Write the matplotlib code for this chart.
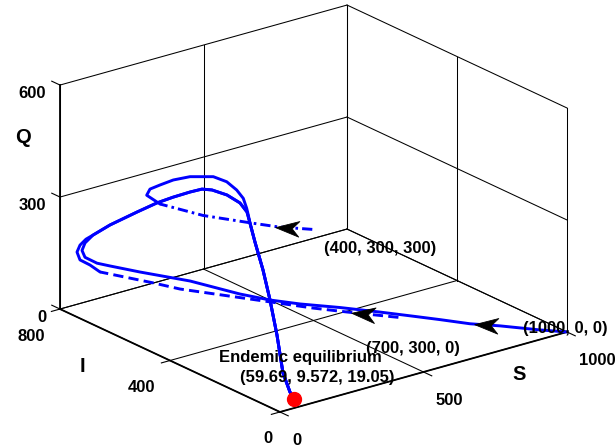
import numpy as np
import matplotlib
matplotlib.use("Agg")
import matplotlib.pyplot as plt
from matplotlib.path import Path
from matplotlib.markers import MarkerStyle
from matplotlib.transforms import Affine2D

plt.rcParams['font.family'] = ['Liberation Sans', 'DejaVu Sans']

# ---------------- data ----------------
S_ticks = [0, 500, 1000]
I_ticks = [0, 400, 800]
Q_ticks = [0, 300, 600]

# trajectory from (1000, 0, 0) up to where it joins the common tail
h1_S = [1000, 950.4, 881.7, 825.5, 778.6, 738.0, 680.2, 611.5, 530, 470, 400, 290, 175, 110, 80, 58, 46, 38]
h1_I = [0, 46.4, 120.1, 170.6, 230.8, 279.3, 346.3, 420.0, 480.4, 526.9, 562.9, 629.9, 691.7, 733.0, 748.9, 769.6, 768.0, 748.7]
h1_Q = [0, 0.1, 0.3, 0.6, 1.0, 1.5, 2.5, 4.0, 10.2, 17.6, 36.2, 71.6, 99.0, 114.9, 123.3, 136.6, 158.2, 186.6]

# trajectory from (700, 300, 0)
h2_S = [700, 605, 545, 440, 280, 230, 125, 90, 55, 45, 38, 34]
h2_I = [300, 387.8, 448.8, 542.8, 655.9, 701.9, 785.0, 784.8, 784.7, 785.2, 766.9, 741.0]
h2_Q = [0, 4.5, 6.9, 18.5, 43.3, 54.7, 77.7, 103.9, 125.1, 148.1, 174.5, 200.2]

# trajectory from (400, 300, 300)
h3_S = [400, 320, 240, 130, 50, 40, 35, 32, 30, 28, 27, 26, 26, 26, 25, 25]
h3_I = [300, 341.2, 359.6, 415.7, 488.5, 526.5, 509.3, 469.7, 419.3, 356.5, 270.7, 220.9, 184.6, 160.6, 147.2, 141.4]
h3_Q = [300, 309.6, 331.4, 355.3, 378.0, 390.6, 414.0, 439.3, 470.5, 501.4, 531.2, 535.0, 525.4, 511.3, 489.5, 473.6]

# common tail of the trajectories, ending at the endemic equilibrium
tail_S = [32, 28, 25, 23, 22, 21, 21, 21, 22, 23, 24, 25, 27, 30, 34, 40, 48, 56, 59.69]
tail_I = [713.4, 647.4, 546.1, 471.3, 412.0, 349.2, 305.6, 269.2, 215.7, 169.5, 145.1, 135.2, 119.1, 93.1, 71.9, 52.7, 39.2, 22.1, 9.572]
tail_Q = [221.1, 271.8, 342.0, 392.7, 428.6, 464.3, 487.2, 497.4, 502.2, 496.6, 480.5, 454.2, 408.3, 342.0, 268.4, 179.5, 80.8, 33.8, 19.05]
tail_join3 = 11          # index of the tail where trajectory 3 joins
dash_end2 = 6            # last index of head 2 drawn dashed
dash_end3 = 4            # last index of head 3 drawn dash-dot

eq_S, eq_I, eq_Q = 59.69, 9.572, 19.05
start_labels = ["(1000, 0, 0)", "(700, 300, 0)", "(400, 300, 300)"]
eq_title = "Endemic equilibrium"
eq_coords = "(59.69, 9.572, 19.05)"

# ---------------- figure ----------------
W, H = 616, 448
fig = plt.figure(figsize=(W / 100, H / 100), dpi=100)
s0 = 560.0
cx0, cy0 = 313.0, 239.0
ax = fig.add_axes([(cx0 - s0 / 2) / W, (cy0 - s0 / 2) / H, s0 / W, s0 / H],
                  projection='3d', proj_type='ortho', computed_zorder=False)
ax.view_init(elev=21.17, azim=-127.66)
ax.set_box_aspect((1, 0.993, 0.6625))
ax.set_axis_off()

K = 'black'
BLUE = '#0000FF'
Smax, Imax, Qmax = S_ticks[-1], I_ticks[-1], Q_ticks[-1]

# grid / box lines (floor + two back walls)
glw = 0.75
for s in S_ticks:
    ax.plot([s, s], [0, Imax], [0, 0], color=K, lw=glw, zorder=1)
    ax.plot([s, s], [Imax, Imax], [0, Qmax], color=K, lw=glw, zorder=1)
for i in I_ticks:
    ax.plot([0, Smax], [i, i], [0, 0], color=K, lw=glw, zorder=1)
    ax.plot([Smax, Smax], [i, i], [0, Qmax], color=K, lw=glw, zorder=1)
for q in Q_ticks:
    ax.plot([0, Smax], [Imax, Imax], [q, q], color=K, lw=glw, zorder=1)
    ax.plot([Smax, Smax], [0, Imax], [q, q], color=K, lw=glw, zorder=1)
# main axis lines
alw = 1.3
ax.plot([0, Smax], [0, 0], [0, 0], color=K, lw=alw, zorder=1)
ax.plot([0, 0], [0, Imax], [0, 0], color=K, lw=alw, zorder=1)
ax.plot([0, 0], [Imax, Imax], [0, Qmax], color=K, lw=alw, zorder=1)
# tick marks
tl = 30
for s in S_ticks:
    ax.plot([s, s], [0, -tl], [0, 0], color=K, lw=0.8, zorder=1)
for i in I_ticks:
    ax.plot([0, -tl], [i, i], [0, 0], color=K, lw=0.8, zorder=1)
for q in Q_ticks:
    ax.plot([0, 0], [Imax, Imax + tl], [q, q], color=K, lw=0.8, zorder=1)

# trajectories
lw = 2.1
sty = dict(color=BLUE, lw=lw, zorder=2, solid_joinstyle='round', solid_capstyle='round')
ax.plot(h1_S + tail_S, h1_I + tail_I, h1_Q + tail_Q, **sty)
ax.plot(h2_S[:dash_end2 + 1], h2_I[:dash_end2 + 1], h2_Q[:dash_end2 + 1],
        color=BLUE, lw=lw, dashes=(3.5, 1.8), zorder=2)
ax.plot(h2_S[dash_end2:] + tail_S, h2_I[dash_end2:] + tail_I, h2_Q[dash_end2:] + tail_Q, **sty)
ax.plot(h3_S[:dash_end3 + 1], h3_I[:dash_end3 + 1], h3_Q[:dash_end3 + 1],
        color=BLUE, lw=lw, dashes=(3.5, 1.4, 0.9, 1.4), zorder=2)
ax.plot(h3_S[dash_end3:] + tail_S[tail_join3:], h3_I[dash_end3:] + tail_I[tail_join3:],
        h3_Q[dash_end3:] + tail_Q[tail_join3:], **sty)
ax.plot([eq_S], [eq_I], [eq_Q], 'o', color='red', mec='red', ms=10, zorder=3)

ax.set_xlim(0, Smax)
ax.set_ylim(0, Imax)
ax.set_zlim(0, Qmax)


def to2d(x, y, z):
    M = ax.get_proj()
    v = M @ np.array([x, y, z, 1.0])
    return v[0] / v[3], v[1] / v[3]


def to_disp(x, y, z):
    return ax.transData.transform(to2d(x, y, z))


# ---- fit the axes box so the 3D box lands where it is in the reference ----
corner3d = [(0, 0, 0), (Smax, 0, 0), (0, Imax, 0)]
target = np.array([[280, H - 412], [567, H - 332], [60, H - 309]], float)
for _ in range(5):
    fig.canvas.draw()
    pts = np.array([to_disp(*c) for c in corner3d])
    bb = ax.get_position()
    cx = (bb.x0 + bb.x1) / 2 * W
    cy = (bb.y0 + bb.y1) / 2 * H
    size = bb.width * W
    r = pts - np.array([cx, cy])
    rr = r - r.mean(0)
    tt = target - target.mean(0)
    k = (tt * rr).sum() / (rr * rr).sum()
    newc = (target - k * r).mean(0)
    ns = size * k
    ax.set_position([(newc[0] - ns / 2) / W, (newc[1] - ns / 2) / H, ns / W, ns / H])
fig.canvas.draw()

# ---- direction arrows ----
apath = Path([(1, 0), (-1, 0.66), (-0.4, 0), (-1, -0.66), (1, 0)],
             [Path.MOVETO, Path.LINETO, Path.LINETO, Path.LINETO, Path.CLOSEPOLY])
arrow_specs = [((h1_S, h1_I, h1_Q), 2, 0.47),
               ((h2_S, h2_I, h2_Q), 0, 0.68),
               ((h3_S, h3_I, h3_Q), 0, 0.74)]
for (xs, ys, zs), i, t in arrow_specs:
    p0 = np.array([xs[i], ys[i], zs[i]], float)
    p1 = np.array([xs[i + 1], ys[i + 1], zs[i + 1]], float)
    pm = p0 + t * (p1 - p0)
    d0, d1 = to_disp(*p0), to_disp(*p1)
    ang = np.arctan2(d1[1] - d0[1], d1[0] - d0[0])
    mk = MarkerStyle(apath, transform=Affine2D().rotate(ang))
    ax.plot([pm[0]], [pm[1]], [pm[2]], linestyle='none', marker=mk, ms=17,
            mfc='black', mec='black', mew=0.6, zorder=4)

# ---- texts ----
fs = 12


def label(s, pt, dx, dy, ha='center', size=fs):
    ax.annotate(s, xy=to2d(*pt), xycoords='data', xytext=(dx, -dy),
                textcoords='offset pixels', ha=ha, va='center',
                fontsize=size, fontweight='bold', zorder=5, annotation_clip=False)


for q in Q_ticks:
    label(str(q), (0, Imax, q), -14, 8, ha='right')
i_dx = [-7, -15, -15]
for i, dx in zip(I_ticks, i_dx):
    label(str(i), (0, i, 0), dx, 27, ha='right')
for s in S_ticks:
    label(str(s), (s, 0, 0), 12, 29, ha='left')

label("Q", (0, Imax, 450), -37, -3.5, size=14.5)
label("I", (0, 600, 0), -32.5, 31.7, size=14.5)
label("S", (800, 0, 0), 9, 26.5, size=14.5)

label(start_labels[0], (h1_S[0], h1_I[0], h1_Q[0]), -2, -3.5)
label(start_labels[1], (h2_S[0], h2_I[0], h2_Q[0]), 15, 31)
label(start_labels[2], (h3_S[0], h3_I[0], h3_Q[0]), 68, 19)
label(eq_title, (eq_S, eq_I, eq_Q), 5.5, -41)
label(eq_coords, (eq_S, eq_I, eq_Q), 23, -21)

fig.savefig("out.png", dpi=100)
